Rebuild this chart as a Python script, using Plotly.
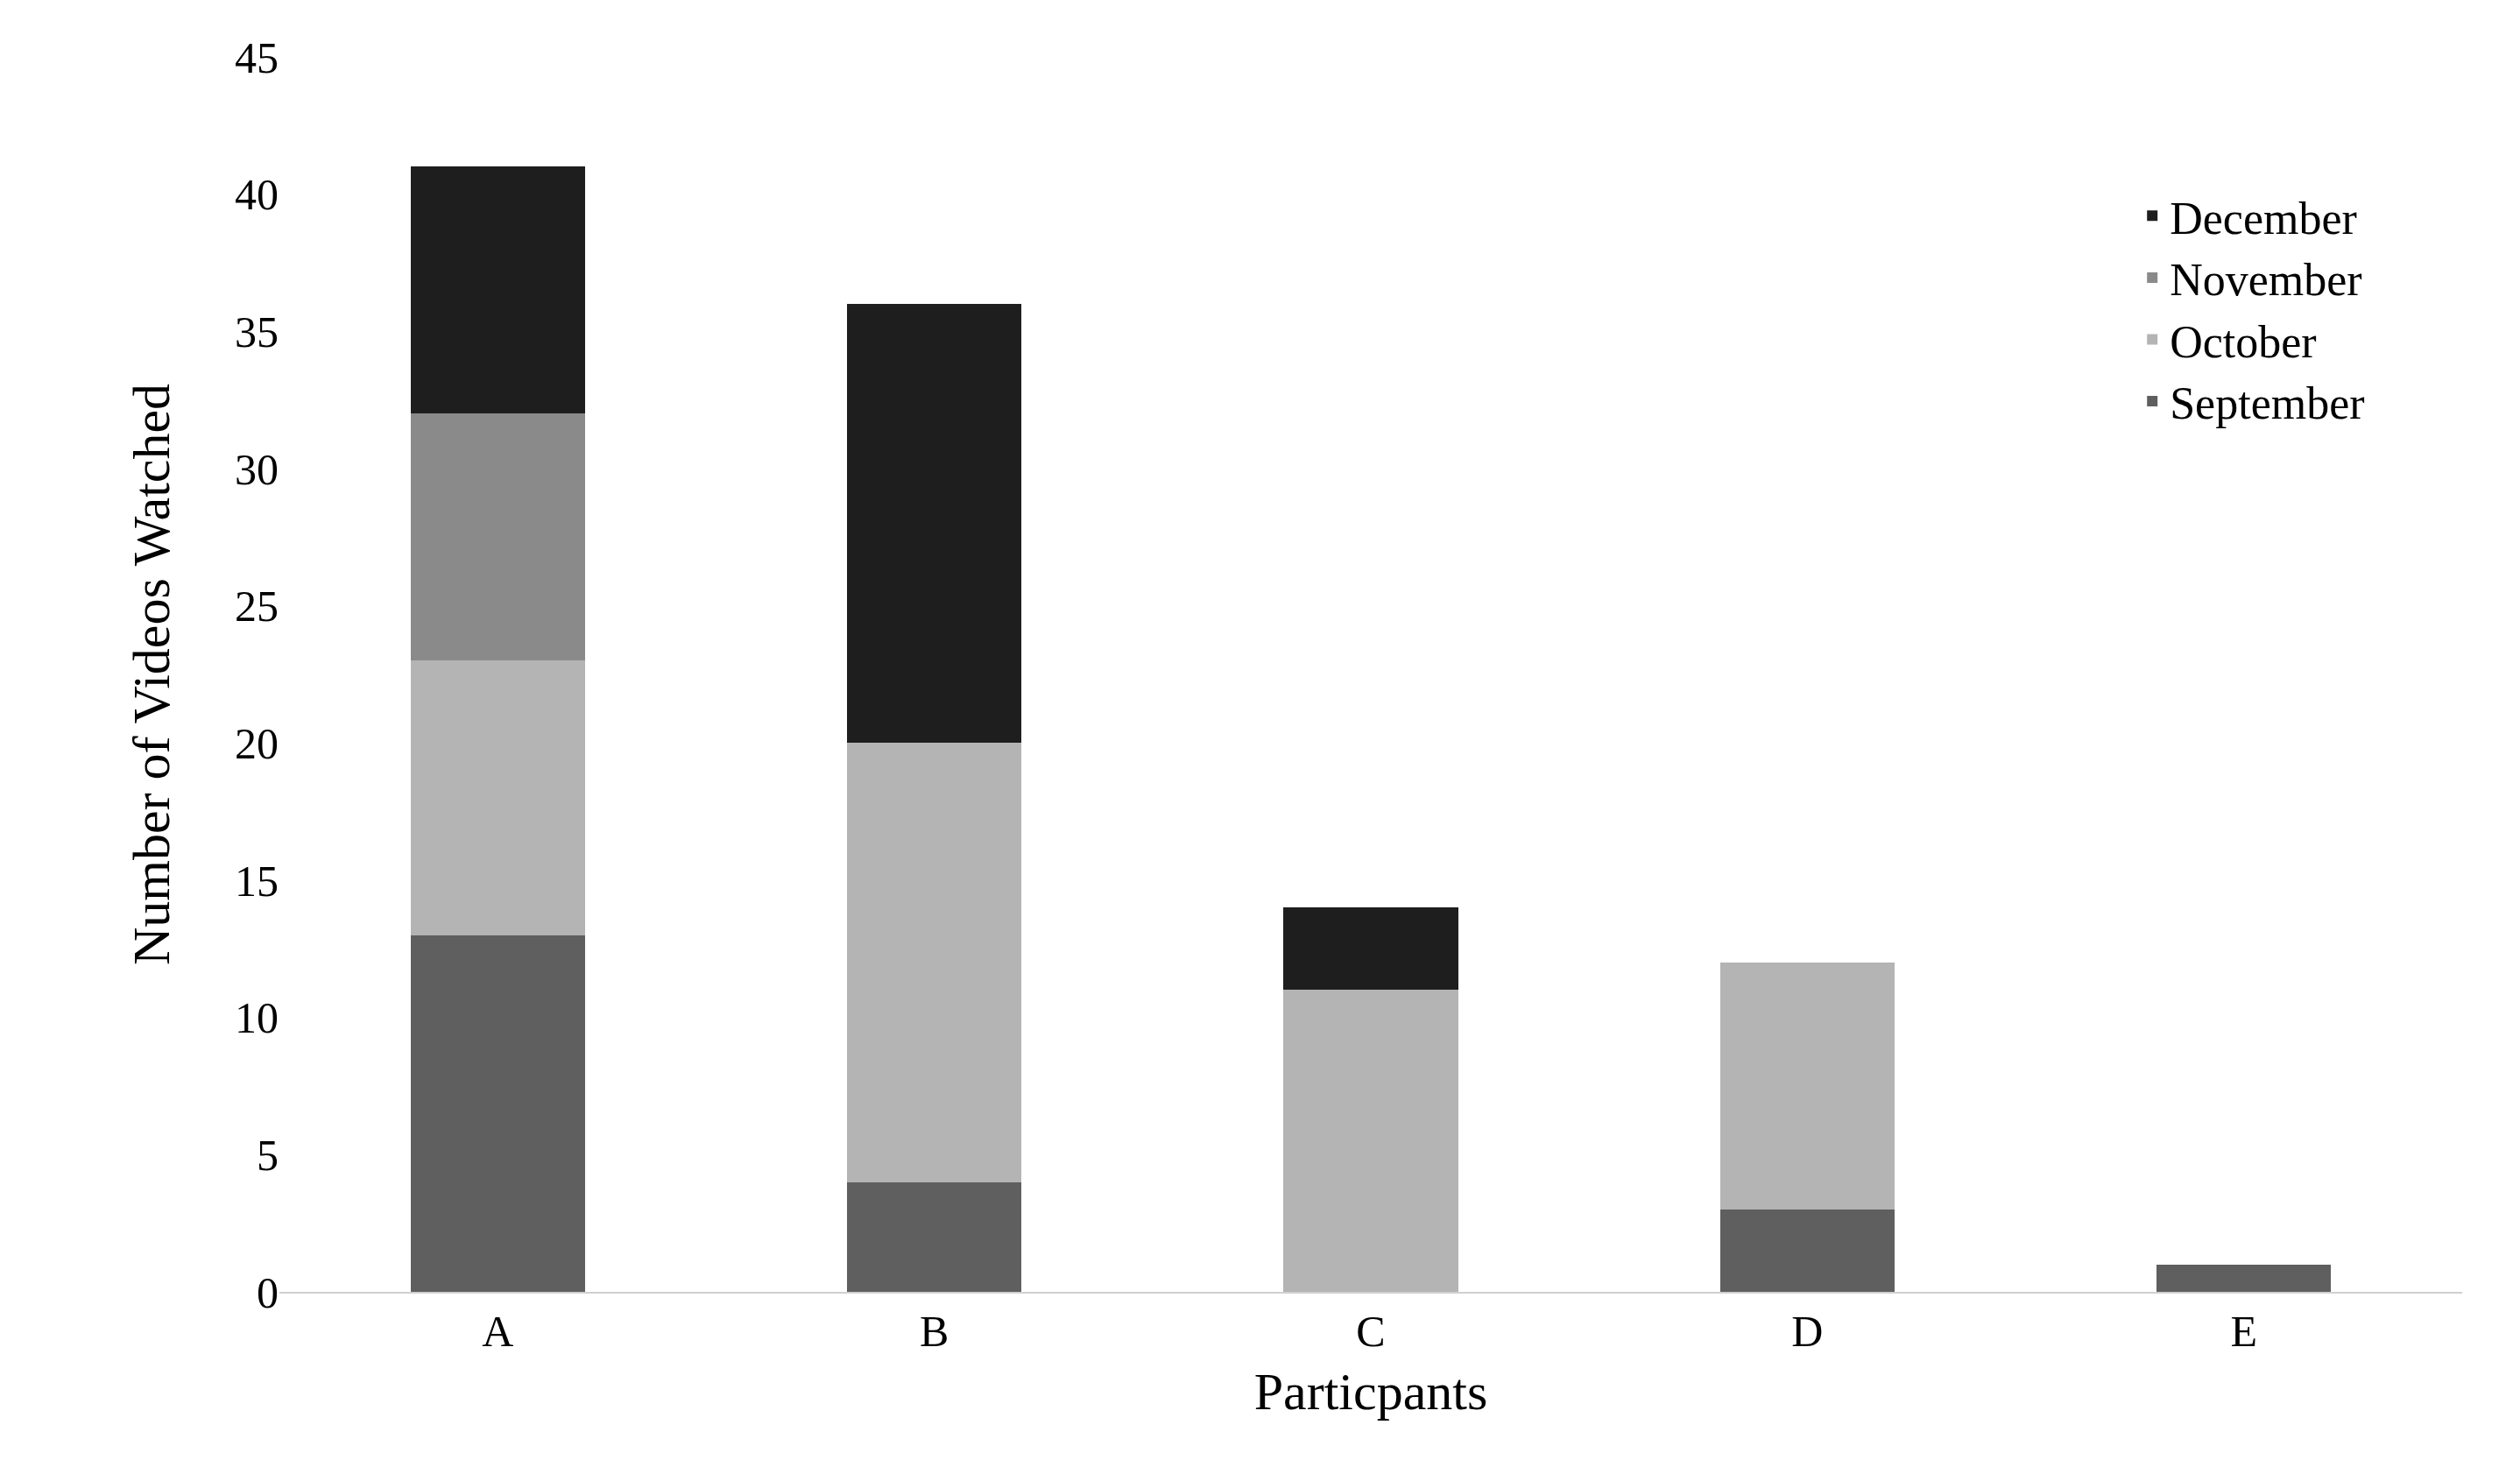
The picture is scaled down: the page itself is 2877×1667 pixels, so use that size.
import plotly.graph_objects as go

participants = ["A", "B", "C", "D", "E"]
september = [13, 4, 0, 3, 1]
october = [10, 16, 11, 9, 0]
november = [9, 0, 0, 0, 0]
december = [9, 16, 3, 0, 0]

series = [("September", september, "#5f5f5f"),
          ("October", october, "#b4b4b4"),
          ("November", november, "#8a8a8a"),
          ("December", december, "#1e1e1e")]

fig = go.Figure()
for name, vals, col in series:
    fig.add_trace(go.Bar(x=participants, y=vals, name=name, marker_color=col,
                         marker_line_width=0, width=0.4))

font = dict(family="Liberation Serif", size=50, color="black")
fig.update_layout(
    barmode="stack", width=2877, height=1667,
    paper_bgcolor="white", plot_bgcolor="white",
    margin=dict(l=311, r=74, t=57, b=200),
    font=font,
    legend=dict(traceorder="reversed", x=0.85, y=0.9, xanchor="left", yanchor="top",
                font=dict(family="Liberation Serif", size=52)),
    xaxis=dict(title=dict(text="Particpants", standoff=20), showline=True,
               linecolor="#d0d0d0", linewidth=2, ticks="", tickfont=dict(size=50)),
    yaxis=dict(title=dict(text="Number of Videos Watched", standoff=55), range=[0, 45],
               dtick=5, showgrid=False, zeroline=False, ticks="", tickfont=dict(size=50)),
)
fig.write_html("out.html")
